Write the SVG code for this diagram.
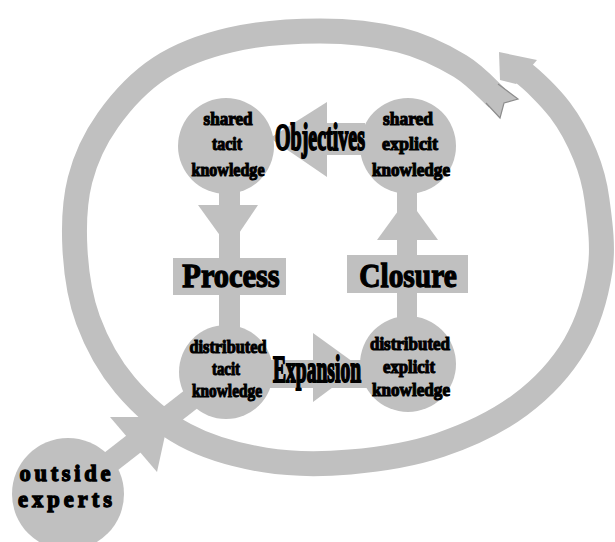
<svg xmlns="http://www.w3.org/2000/svg" width="615" height="542" viewBox="0 0 615 542">
  <style>
    .shape { fill: #c0c0c0; }
    .band { fill: none; stroke: #c0c0c0; stroke-width: 25; }
    .lbl { font-family: "Liberation Serif", "Times New Roman", serif; font-weight: bold; fill: #000; stroke: #000; text-anchor: middle; }
    .sm { font-size: 18px; stroke-width: 1.1; }
    .md { font-size: 33px; stroke-width: 1.3; }
    .lg { font-size: 38px; stroke-width: 2; }
    .ox { font-size: 22.5px; stroke-width: 1.3; }
  </style>
  <rect width="615" height="542" fill="#fff"/>

  <!-- connectors -->
  <g id="connectors">
    <!-- outer cycle band -->
    <path class="band" d="M497,98 C490.8,92.7 476.2,75.7 460,66 C443.8,56.3 423.3,45.8 400,40 C376.7,34.2 348.3,31 320,31 C291.7,31 256.7,33.8 230,40 C203.3,46.2 180.3,54.7 160,68 C139.7,81.3 121.3,101.3 108,120 C94.7,138.7 85.5,158.3 80,180 C74.5,201.7 73.7,226.7 75,250 C76.3,273.3 79.7,297.5 88,320 C96.3,342.5 108.8,365.8 125,385 C141.2,404.2 161.7,422.5 185,435 C208.3,447.5 237.5,455.5 265,460 C292.5,464.5 320.8,464.5 350,462 C379.2,459.5 411.7,454.5 440,445 C468.3,435.5 497.5,421.7 520,405 C542.5,388.3 561.7,367.5 575,345 C588.3,322.5 596.3,294.2 600,270 C603.7,245.8 599.5,219.2 597,200 C594.5,180.8 591.2,170 585,155 C578.8,140 569.5,122.5 560,110 C550.5,97.5 533,80 522,72"/>
    <!-- cycle arrowhead -->
    <polygon class="shape" points="499,52 537,60 531,67 516,84 500,80"/>
    <!-- cycle tail -->
    <polygon class="shape" points="495,81 518,99 504,103 500,118 482,99"/>
    <polyline points="498,84 518,99 504,103 500,118 486,103" fill="none" stroke="#8c8c8c" stroke-width="1.2"/>

    <!-- outside experts -> distributed tacit -->
    <line x1="68" y1="495" x2="226" y2="372" stroke="#c0c0c0" stroke-width="22"/>
    <polygon class="shape" points="110,417 157,472 169,417"/>

    <!-- Objectives: shared explicit -> shared tacit -->
    <rect class="shape" x="300" y="123" width="65" height="32"/>
    <polygon class="shape" points="327,102 327,177 270,138"/>

    <!-- Process: shared tacit -> distributed tacit -->
    <rect class="shape" x="219" y="180" width="21" height="160"/>
    <polygon class="shape" points="198,205 258,205 229,248"/>
    <rect class="shape" x="173" y="258" width="113" height="37"/>

    <!-- Expansion: distributed tacit -> distributed explicit -->
    <rect class="shape" x="260" y="360" width="110" height="28"/>
    <polygon class="shape" points="313,333 313,402 360,367"/>

    <!-- Closure: distributed explicit -> shared explicit -->
    <rect class="shape" x="397" y="180" width="20" height="150"/>
    <polygon class="shape" points="377,240 438,240 407.5,198"/>
    <rect class="shape" x="347" y="255" width="121" height="38"/>
  </g>

  <g id="shared-tacit">
    <circle class="shape" cx="226" cy="146" r="48"/>
    <text class="lbl sm" x="228" y="125" textLength="49" lengthAdjust="spacingAndGlyphs">shared</text>
    <text class="lbl sm" x="227" y="150" textLength="30" lengthAdjust="spacingAndGlyphs">tacit</text>
    <text class="lbl sm" x="228" y="176" textLength="73" lengthAdjust="spacingAndGlyphs">knowledge</text>
  </g>

  <g id="shared-explicit">
    <circle class="shape" cx="408" cy="146" r="48"/>
    <text class="lbl sm" x="408" y="125" textLength="50" lengthAdjust="spacingAndGlyphs">shared</text>
    <text class="lbl sm" x="410" y="150" textLength="56" lengthAdjust="spacingAndGlyphs">explicit</text>
    <text class="lbl sm" x="411" y="176" textLength="78" lengthAdjust="spacingAndGlyphs">knowledge</text>
  </g>

  <g id="distributed-tacit">
    <circle class="shape" cx="226" cy="372" r="47"/>
    <text class="lbl sm" x="228" y="353" textLength="77" lengthAdjust="spacingAndGlyphs">distributed</text>
    <text class="lbl sm" x="226" y="375" textLength="28" lengthAdjust="spacingAndGlyphs">tacit</text>
    <text class="lbl sm" x="227" y="397" textLength="70" lengthAdjust="spacingAndGlyphs">knowledge</text>
  </g>

  <g id="distributed-explicit">
    <circle class="shape" cx="408" cy="364" r="48"/>
    <text class="lbl sm" x="410" y="350" textLength="80" lengthAdjust="spacingAndGlyphs">distributed</text>
    <text class="lbl sm" x="409" y="373" textLength="52" lengthAdjust="spacingAndGlyphs">explicit</text>
    <text class="lbl sm" x="411" y="396" textLength="78" lengthAdjust="spacingAndGlyphs">knowledge</text>
  </g>

  <g id="outside-experts">
    <circle class="shape" cx="68" cy="494" r="56"/>
    <text class="lbl ox" x="65" y="481" textLength="91">outside</text>
    <text class="lbl ox" x="65" y="507" textLength="94">experts</text>
  </g>

  <!-- edge labels, drawn over the nodes; condensed horizontally -->
  <g id="edge-labels">
    <text class="lbl lg" transform="translate(320,150) scale(0.526,1)">Objectives</text>
    <text class="lbl md" transform="translate(231,287) scale(0.922,1)">Process</text>
    <text class="lbl md" transform="translate(408,287) scale(0.891,1)">Closure</text>
    <text class="lbl lg" transform="translate(317,382) scale(0.515,1)">Expansion</text>
  </g>
</svg>
